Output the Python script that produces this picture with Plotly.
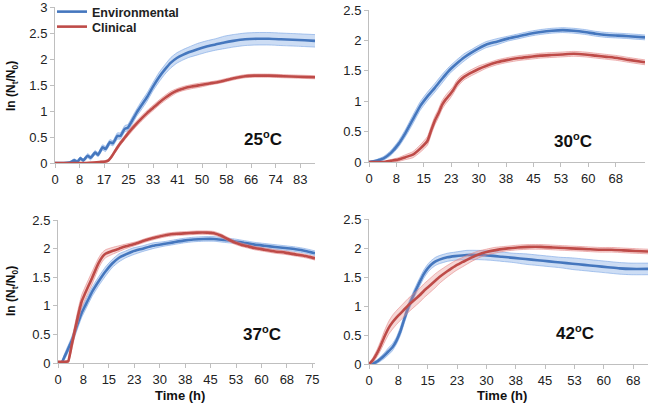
import plotly.graph_objects as go

# ---------------- data ----------------
# 25 C
t25_env = [0, 3, 5, 6.5, 7.5, 8.5, 9.5, 11, 12, 13.5, 14.5, 16, 17, 18.5, 19.5, 21, 22, 23.5, 24.5, 26, 27.5, 29, 31, 33, 35, 37, 39, 41, 43, 45, 48, 51, 54, 57, 60, 64, 68, 72, 76, 80, 84, 87.5]
y25_env = [0, 0, 0.01, 0.05, 0.02, 0.09, 0.05, 0.14, 0.10, 0.20, 0.16, 0.30, 0.27, 0.40, 0.38, 0.52, 0.52, 0.66, 0.68, 0.82, 0.97, 1.10, 1.27, 1.47, 1.65, 1.80, 1.93, 2.02, 2.08, 2.13, 2.19, 2.24, 2.28, 2.32, 2.35, 2.38, 2.39, 2.39, 2.38, 2.37, 2.36, 2.35]
e25_env = [0.01, 0.01, 0.02, 0.03, 0.03, 0.03, 0.03, 0.04, 0.04, 0.04, 0.04, 0.05, 0.05, 0.05, 0.05, 0.06, 0.06, 0.06, 0.06, 0.07, 0.07, 0.08, 0.08, 0.08, 0.09, 0.09, 0.10, 0.10, 0.10, 0.10, 0.11, 0.11, 0.11, 0.12, 0.12, 0.12, 0.12, 0.12, 0.12, 0.12, 0.12, 0.12]
t25_cli = [0, 10, 15, 17, 18, 19, 20, 21, 22, 23.5, 25, 27, 29, 31, 33, 35, 37, 39, 41, 43, 46, 49, 52, 55, 58, 61, 64, 67, 72, 77, 82, 87.5]
y25_cli = [0, 0, 0.02, 0.03, 0.05, 0.12, 0.21, 0.30, 0.38, 0.49, 0.60, 0.73, 0.85, 0.96, 1.06, 1.16, 1.25, 1.33, 1.39, 1.43, 1.47, 1.50, 1.53, 1.56, 1.60, 1.64, 1.67, 1.68, 1.68, 1.67, 1.66, 1.65]
e25_cli = [0.01, 0.01, 0.01, 0.02, 0.02, 0.03, 0.03, 0.04, 0.04, 0.04, 0.05, 0.05, 0.05, 0.05, 0.05, 0.05, 0.05, 0.05, 0.04, 0.04, 0.04, 0.04, 0.03, 0.03, 0.03, 0.03, 0.03, 0.03, 0.03, 0.03, 0.03, 0.03]

# 30 C
t30_env = [0, 2, 4, 6, 8, 10, 12, 14, 16, 18, 20, 22, 24, 26, 28, 30, 32, 35, 38, 41, 44, 47, 50, 53, 56, 59, 62, 65, 68, 71, 75.5]
y30_env = [0, 0.02, 0.06, 0.15, 0.29, 0.48, 0.70, 0.92, 1.08, 1.22, 1.37, 1.51, 1.62, 1.72, 1.80, 1.87, 1.93, 1.98, 2.03, 2.07, 2.11, 2.14, 2.16, 2.17, 2.16, 2.14, 2.11, 2.09, 2.08, 2.07, 2.05]
e30_env = [0.01, 0.02, 0.03, 0.04, 0.05, 0.06, 0.07, 0.07, 0.07, 0.07, 0.07, 0.06, 0.06, 0.06, 0.05, 0.05, 0.05, 0.05, 0.04, 0.04, 0.04, 0.04, 0.04, 0.04, 0.04, 0.04, 0.04, 0.04, 0.04, 0.04, 0.04]
t30_cli = [0, 4, 6, 8, 10, 12, 14, 16, 17, 18, 19, 20, 21, 22, 23, 24, 25, 26, 28, 30, 32, 35, 38, 41, 44, 47, 50, 53, 56, 59, 62, 65, 68, 71, 75.5]
y30_cli = [0, 0, 0.02, 0.04, 0.08, 0.12, 0.22, 0.35, 0.52, 0.68, 0.80, 0.94, 1.03, 1.10, 1.18, 1.28, 1.35, 1.40, 1.47, 1.53, 1.58, 1.64, 1.68, 1.71, 1.73, 1.75, 1.76, 1.77, 1.78, 1.77, 1.75, 1.73, 1.71, 1.68, 1.64]
e30_cli = [0.01, 0.01, 0.02, 0.03, 0.04, 0.05, 0.06, 0.07, 0.07, 0.07, 0.07, 0.07, 0.07, 0.07, 0.06, 0.06, 0.06, 0.05, 0.05, 0.05, 0.04, 0.04, 0.04, 0.04, 0.04, 0.04, 0.04, 0.04, 0.04, 0.04, 0.04, 0.04, 0.04, 0.04, 0.04]

# 37 C
t37_env = [0, 1, 2, 3, 4, 5, 6, 7, 8, 9, 10, 12, 14, 16, 18, 20, 22, 25, 28, 31, 34, 37, 40, 43, 46, 49, 52, 55, 58, 61, 64, 67, 70, 73, 75.8]
y37_env = [0, 0, 0.12, 0.25, 0.38, 0.55, 0.72, 0.88, 1.00, 1.12, 1.24, 1.43, 1.60, 1.74, 1.84, 1.90, 1.95, 2.00, 2.05, 2.08, 2.11, 2.14, 2.16, 2.17, 2.17, 2.15, 2.13, 2.10, 2.07, 2.05, 2.03, 2.01, 1.99, 1.96, 1.92]
e37_env = [0.01, 0.02, 0.05, 0.06, 0.07, 0.08, 0.08, 0.08, 0.08, 0.08, 0.08, 0.08, 0.08, 0.07, 0.07, 0.06, 0.06, 0.05, 0.05, 0.04, 0.04, 0.04, 0.04, 0.04, 0.04, 0.04, 0.04, 0.04, 0.04, 0.04, 0.04, 0.04, 0.04, 0.04, 0.04]
t37_cli = [0, 1, 2, 3, 3.5, 4, 5, 6, 7, 8, 9, 10, 11, 12, 13, 14, 16, 18, 20, 23, 26, 29, 32, 35, 38, 41, 44, 46, 48, 50, 52, 54, 56, 58, 61, 64, 67, 70, 73, 75.8]
y37_cli = [0.02, 0.02, 0.02, 0.03, 0.15, 0.30, 0.58, 0.85, 1.08, 1.22, 1.35, 1.48, 1.62, 1.75, 1.85, 1.91, 1.96, 2.00, 2.04, 2.09, 2.15, 2.20, 2.24, 2.26, 2.27, 2.28, 2.28, 2.27, 2.23, 2.17, 2.11, 2.07, 2.04, 2.01, 1.98, 1.95, 1.93, 1.90, 1.87, 1.83]
e37_cli = [0.01, 0.01, 0.01, 0.02, 0.05, 0.08, 0.10, 0.11, 0.11, 0.11, 0.11, 0.11, 0.10, 0.09, 0.08, 0.07, 0.06, 0.05, 0.04, 0.03, 0.03, 0.03, 0.03, 0.03, 0.03, 0.03, 0.03, 0.03, 0.03, 0.03, 0.03, 0.03, 0.03, 0.03, 0.03, 0.03, 0.03, 0.03, 0.03, 0.03]

# 42 C
t42_env = [0, 1, 2, 3, 4, 5, 6, 7, 8, 9, 10, 11, 12, 13, 14, 15, 16, 17, 18, 20, 22, 25, 28, 31, 34, 37, 40, 43, 46, 49, 52, 55, 58, 61, 64, 67, 71.3]
y42_env = [0, 0.01, 0.04, 0.09, 0.15, 0.22, 0.29, 0.40, 0.56, 0.77, 0.97, 1.13, 1.28, 1.42, 1.55, 1.65, 1.72, 1.77, 1.80, 1.84, 1.86, 1.88, 1.88, 1.87, 1.85, 1.83, 1.81, 1.79, 1.77, 1.75, 1.73, 1.71, 1.69, 1.67, 1.65, 1.64, 1.64]
e42_env = [0.01, 0.02, 0.03, 0.04, 0.05, 0.06, 0.06, 0.06, 0.07, 0.07, 0.07, 0.07, 0.07, 0.07, 0.07, 0.07, 0.07, 0.07, 0.07, 0.07, 0.07, 0.08, 0.08, 0.08, 0.08, 0.08, 0.09, 0.09, 0.09, 0.09, 0.10, 0.10, 0.10, 0.10, 0.10, 0.10, 0.10]
t42_cli = [0, 1, 2, 3, 4, 5, 6, 7, 8, 9, 10, 11, 12, 13, 14, 15, 16, 17, 18, 20, 22, 24, 26, 28, 30, 32, 35, 38, 41, 44, 47, 50, 53, 56, 59, 62, 65, 68, 71.3]
y42_cli = [0, 0.07, 0.18, 0.32, 0.48, 0.62, 0.72, 0.80, 0.87, 0.94, 1.01, 1.07, 1.13, 1.19, 1.26, 1.32, 1.38, 1.44, 1.50, 1.60, 1.69, 1.76, 1.83, 1.89, 1.93, 1.96, 1.99, 2.01, 2.02, 2.02, 2.01, 2.00, 1.99, 1.98, 1.97, 1.97, 1.96, 1.95, 1.94]
e42_cli = [0.01, 0.04, 0.06, 0.08, 0.10, 0.11, 0.12, 0.12, 0.12, 0.12, 0.12, 0.12, 0.12, 0.12, 0.12, 0.12, 0.12, 0.12, 0.11, 0.10, 0.09, 0.08, 0.07, 0.06, 0.05, 0.05, 0.04, 0.04, 0.04, 0.04, 0.04, 0.04, 0.04, 0.04, 0.04, 0.04, 0.04, 0.04, 0.04]

# tick labels
ticks25 = ["0", "8", "17", "25", "33", "41", "50", "58", "66", "74", "83"]
ticks30 = ["0", "8", "15", "23", "30", "38", "45", "53", "60", "68"]
ticks37 = ["0", "8", "15", "23", "30", "38", "45", "53", "60", "68", "75"]
ticks42 = ["0", "8", "15", "23", "30", "38", "45", "53", "60", "68"]
yticks_top = [0, 0.5, 1, 1.5, 2, 2.5, 3]
yticks_other = [0, 0.5, 1, 1.5, 2, 2.5]
step25 = 8.25
step_other = 7.5

panel_labels = ["25", "30", "37", "42"]
series_names = ["Environmental", "Clinical"]
y_title = "ln (N<sub>t</sub>/N<sub>0</sub>)"
x_title = "Time (h)"

# ---------------- style ----------------
BLUE = "#4577BE"
RED = "#BE4B48"
BLUE_BAND = "rgba(130,170,228,0.40)"
RED_BAND = "rgba(228,140,138,0.35)"
BLUE_EDGE = "rgba(120,165,228,0.75)"
RED_EDGE = "rgba(228,135,135,0.75)"
FONT = "Liberation Sans, Arial, sans-serif"
AXIS_GRAY = "#BFBFBF"
W, H = 649, 404

fig = go.Figure()

panels = [
    dict(xa="x", ya="y", t=(t25_env, y25_env, e25_env), c=(t25_cli, y25_cli, e25_cli),
         ticks=ticks25, yt=yticks_top, step=step25, xmax=87.5, ymax=3, px=(55, 315), py=(7, 163)),
    dict(xa="x2", ya="y2", t=(t30_env, y30_env, e30_env), c=(t30_cli, y30_cli, e30_cli),
         ticks=ticks30, yt=yticks_other, step=step_other, xmax=75.5, ymax=2.5, px=(369, 645), py=(10, 162)),
    dict(xa="x3", ya="y3", t=(t37_env, y37_env, e37_env), c=(t37_cli, y37_cli, e37_cli),
         ticks=ticks37, yt=yticks_other, step=step_other, xmax=75.8, ymax=2.5, px=(58, 315), py=(220, 363)),
    dict(xa="x4", ya="y4", t=(t42_env, y42_env, e42_env), c=(t42_cli, y42_cli, e42_cli),
         ticks=ticks42, yt=yticks_other, step=step_other, xmax=71.3, ymax=2.5, px=(369, 648), py=(219, 364)),
]


def add_series(xa, ya, t, y, e, color, band, edge, name, show, legend):
    up = [v + d for v, d in zip(y, e)]
    lo = [v - d for v, d in zip(y, e)]
    fig.add_trace(go.Scatter(x=t, y=up, xaxis=xa, yaxis=ya, mode="lines",
                             line=dict(color=edge, width=0.8, shape="spline", smoothing=0.5),
                             showlegend=False, hoverinfo="skip"))
    fig.add_trace(go.Scatter(x=t, y=lo, xaxis=xa, yaxis=ya, mode="lines",
                             line=dict(color=edge, width=0.8, shape="spline", smoothing=0.5),
                             fill="tonexty", fillcolor=band,
                             showlegend=False, hoverinfo="skip"))
    fig.add_trace(go.Scatter(x=t, y=y, xaxis=xa, yaxis=ya, mode="lines", name=name,
                             line=dict(color=color, width=2.6, shape="spline", smoothing=0.5),
                             showlegend=show, legend=legend))


for i, p in enumerate(panels):
    add_series(p["xa"], p["ya"], *p["t"], BLUE, BLUE_BAND, BLUE_EDGE, series_names[0], i == 0, "legend")
    add_series(p["xa"], p["ya"], *p["c"], RED, RED_BAND, RED_EDGE, series_names[1], i == 0, "legend2")

    sfx = "" if i == 0 else str(i + 1)
    tickvals = [k * p["step"] for k in range(len(p["ticks"]))]
    x0, x1 = p["px"]
    y0, y1 = p["py"]
    fig.layout["xaxis" + sfx] = dict(
        domain=[x0 / W, x1 / W], anchor="y" + sfx, range=[0, p["xmax"]], automargin=False,
        tickmode="array", tickvals=tickvals, ticktext=p["ticks"], ticklabeloverflow="allow",
        showline=True, linecolor=AXIS_GRAY, linewidth=1, ticks="outside", ticklen=4,
        tickcolor=AXIS_GRAY, showgrid=False, zeroline=False,
        tickfont=dict(family=FONT, size=13, color="#222222"),
    )
    fig.layout["yaxis" + sfx] = dict(
        domain=[1 - y1 / H, 1 - y0 / H], anchor="x" + sfx, range=[0, p["ymax"] + 0.001], automargin=False,
        tickmode="array", tickvals=p["yt"], ticktext=[f"{v:g}" for v in p["yt"]], ticklabeloverflow="allow",
        showline=True, linecolor=AXIS_GRAY, linewidth=1, ticks="outside", ticklen=4,
        tickcolor=AXIS_GRAY, showgrid=False, zeroline=False,
        tickfont=dict(family=FONT, size=13, color="#222222"),
    )

# axis titles
for cy in (86, 291):
    fig.add_annotation(x=12 / W, y=1 - cy / H, xref="paper", yref="paper", text="<b>" + y_title + "</b>",
                       textangle=-90, showarrow=False, xanchor="center", yanchor="middle",
                       font=dict(family=FONT, size=12, color="#111111"))
for cx in (180, 502):
    fig.add_annotation(x=cx / W, y=1 - 395 / H, xref="paper", yref="paper", text="<b>" + x_title + "</b>",
                       showarrow=False, xanchor="center", yanchor="middle",
                       font=dict(family=FONT, size=13, color="#111111"))

# panel temperature labels
label_pos = [(263, 138), (573, 140), (262, 333), (575, 332)]
for (lx, ly), num in zip(label_pos, panel_labels):
    fig.add_annotation(x=lx / W, y=1 - ly / H, xref="paper", yref="paper",
                       text="<b>" + num + "<sup><span style='font-size:11px'>o</span></sup>C</b>",
                       showarrow=False, xanchor="center", yanchor="middle",
                       font=dict(family=FONT, size=17, color="#111111"))

leg_common = dict(xanchor="left", yanchor="middle", bgcolor="rgba(0,0,0,0)",
                  font=dict(family=FONT, size=12.5, color="#222222", weight="bold"),
                  itemwidth=30, borderwidth=0)
fig.update_layout(
    width=W, height=H, margin=dict(l=0, r=0, t=0, b=0, autoexpand=False),
    paper_bgcolor="white", plot_bgcolor="white",
    legend=dict(x=52 / W, y=1 - 12 / H, **leg_common),
    legend2=dict(x=52 / W, y=1 - 27 / H, **leg_common),
    showlegend=True,
)

fig.write_html("out.html", config={"displayModeBar": False},
               post_script="document.body.style.margin='0px';document.body.style.overflow='hidden';")
